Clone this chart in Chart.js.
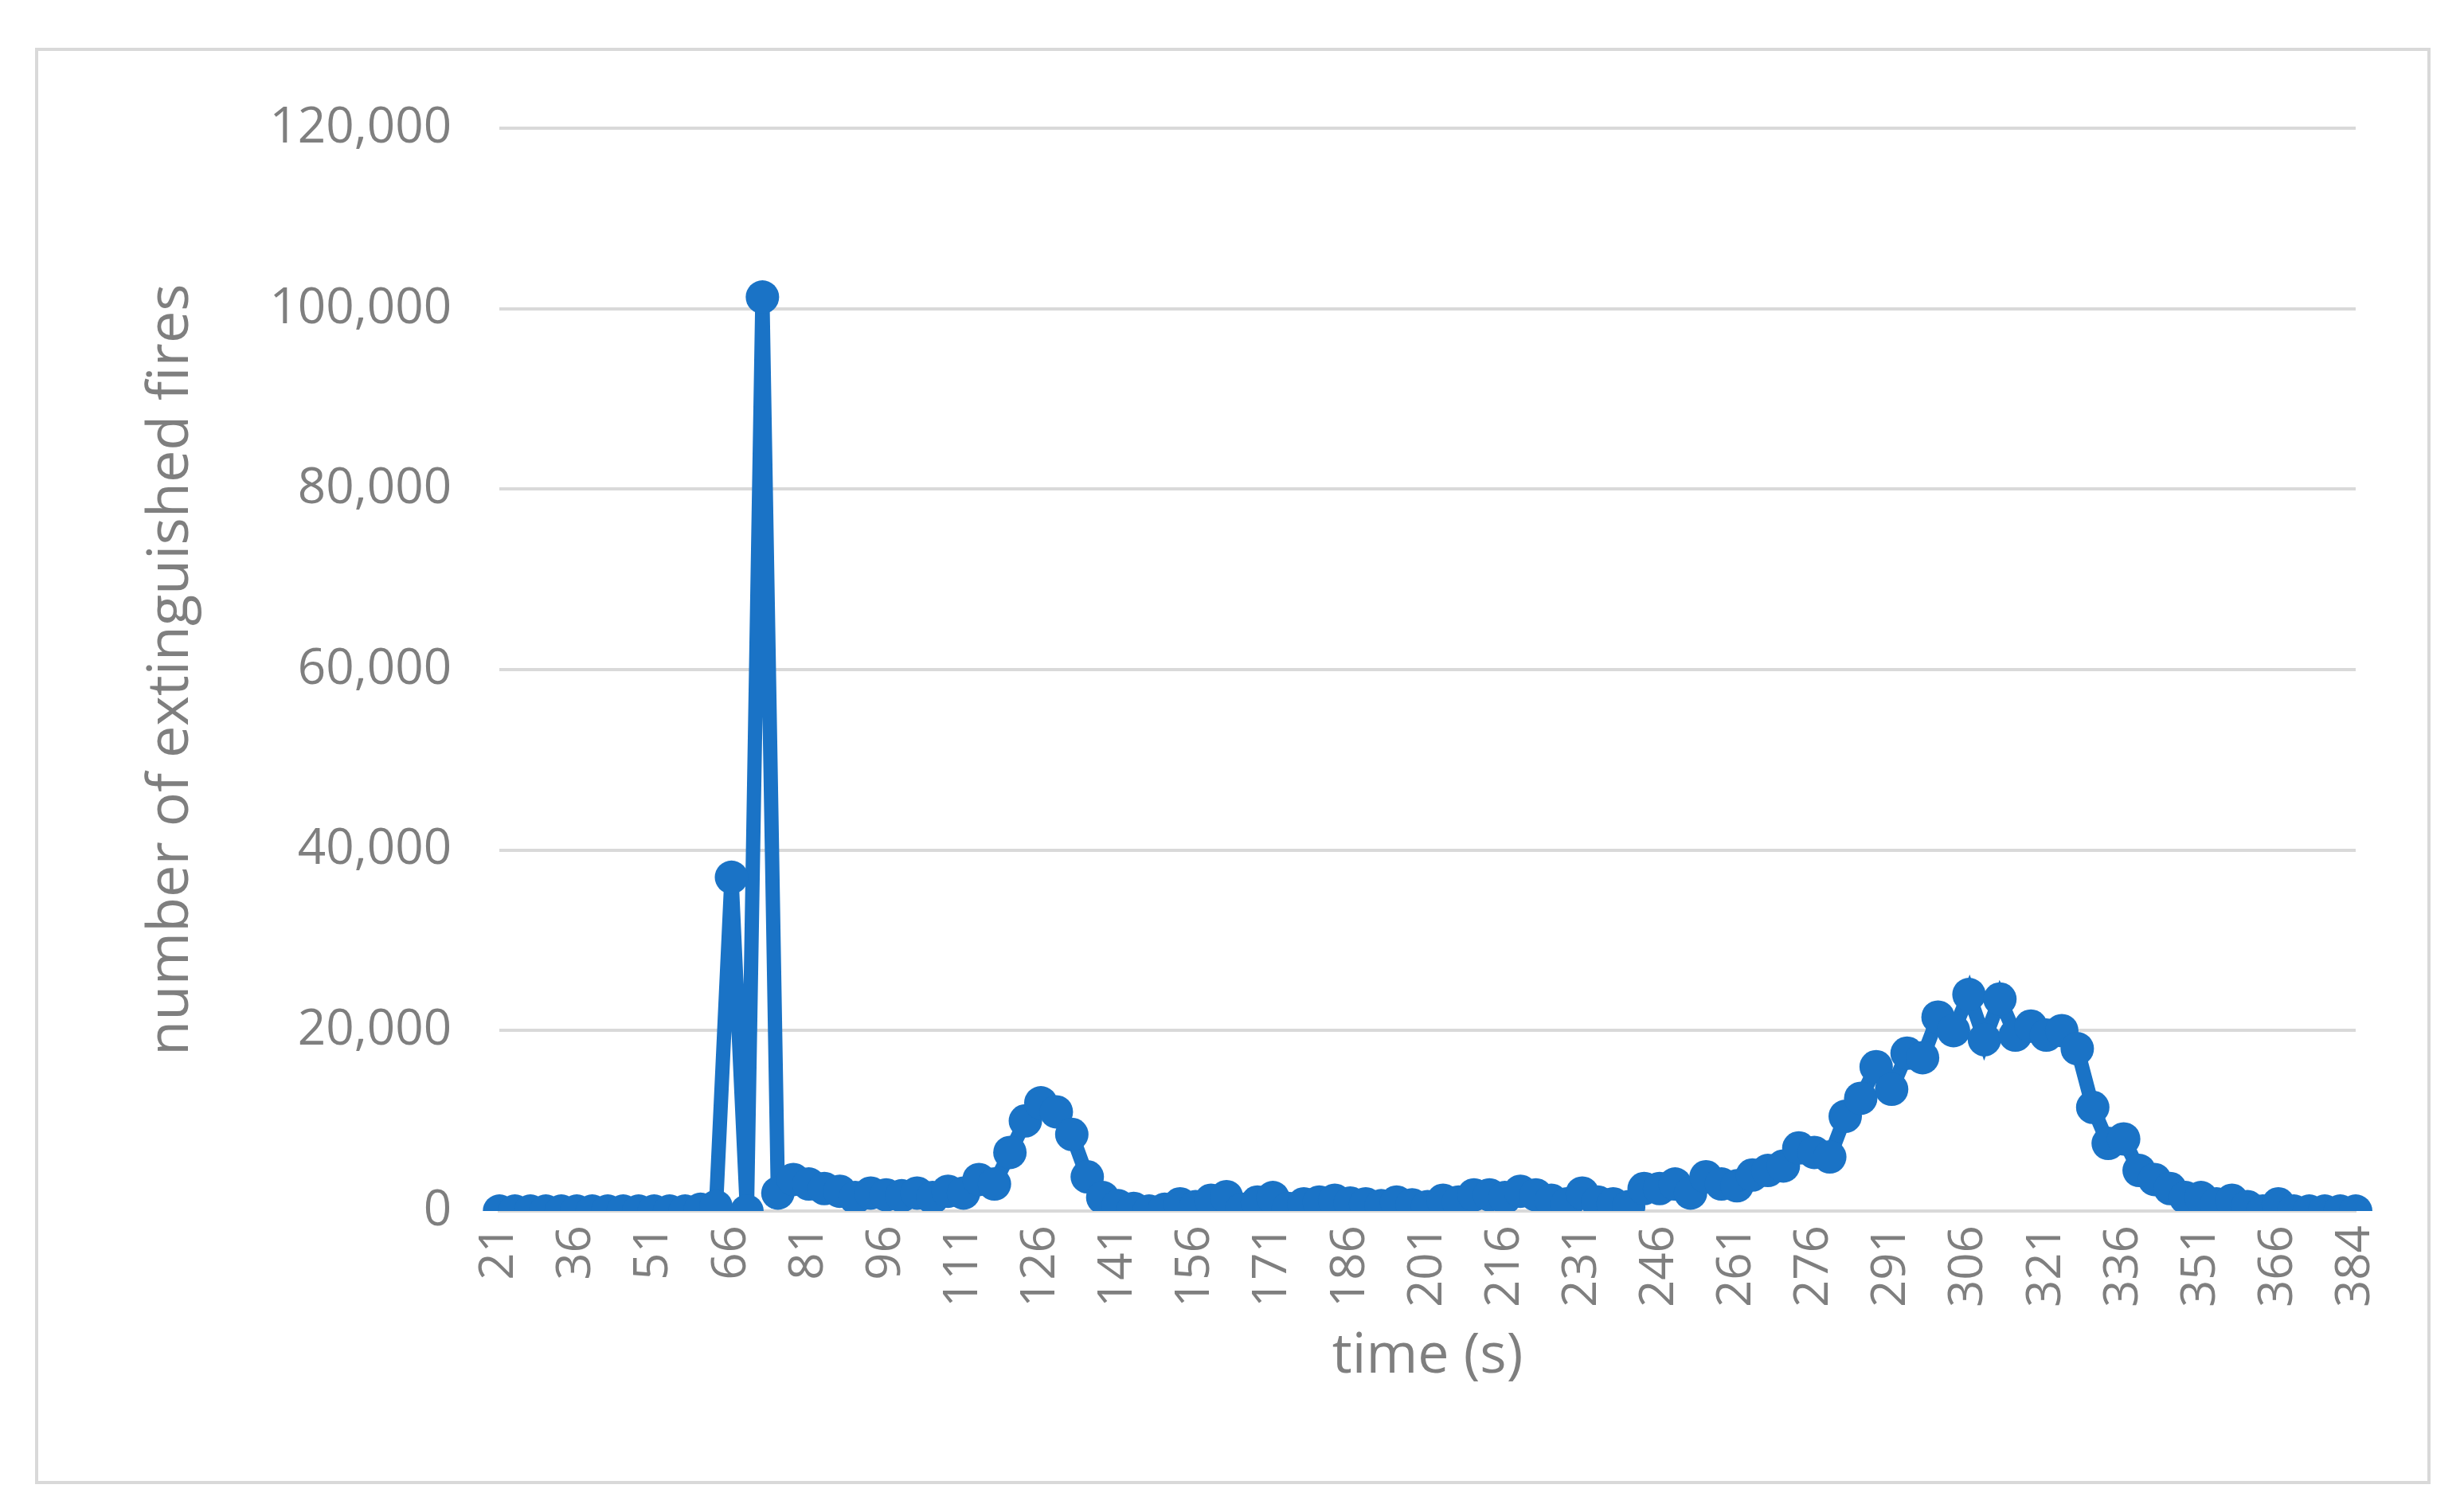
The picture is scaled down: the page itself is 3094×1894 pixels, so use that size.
<!DOCTYPE html>
<html>
<head>
<meta charset="utf-8">
<script src="https://cdn.jsdelivr.net/npm/chart.js@4"></script>
<style>
  html, body { margin: 0; padding: 0; background: #fff; }
  #box { position: absolute; left: 44px; top: 60px; width: 3000px; height: 1796px; border: 4px solid #d9d9d9; }
</style>
</head>
<body>
<div id="box"><canvas id="lineChart" width="3000" height="1796"></canvas></div>
<script>
// time axis, every 3 s (381 is missing in the source)
var times = [];
for (var t = 21; t <= 378; t += 3) times.push(t);
times.push(384);

var extinguished = [
  0, 0, 0, 0, 0, 0, 0, 0, 0, 0, 0, 0, 0, 200, 500,
  37000, 0, 101300, 2000, 3500, 3000, 2500, 2200, 1500, 2000,
  1800, 1700, 2000, 1500, 2200, 2000, 3500, 3000, 6500, 10000,
  12000, 11000, 8500, 3800, 1500, 600, 300, 0, 200, 800,
  500, 1200, 1600, 200, 1000, 1500, 300, 800, 1000, 1200,
  900, 800, 600, 1000, 700, 500, 1200, 1000, 1800, 1800,
  1500, 2200, 1800, 1200, 800, 2000, 1000, 800, 500, 2500,
  2500, 3000, 2000, 3800, 3000, 2800, 4000, 4500, 5000, 7000,
  6500, 6000, 10500, 12500, 16000, 13500, 17500, 17000, 21500, 20000,
  24000, 19000, 23500, 19500, 20500, 19500, 20000, 18000, 11500, 7500,
  8000, 4500, 3500, 2500, 1500, 1500, 800, 1200, 500, 0,
  800, 0, 0, 0, 0, 0
];

var grey = '#7f7f7f';
var blue = '#1a73c6';

var ctxLine = document.getElementById('lineChart').getContext('2d');
var chartLine = new Chart(ctxLine, {
  type: 'line',
  data: {
    labels: times,
    datasets: [
      {
        label: 'number of extinguished fires',
        data: extinguished,
        borderColor: blue,
        backgroundColor: blue,
        borderWidth: 18,
        pointRadius: 21,
        pointBorderWidth: 0,
        tension: 0,
      },
    ],
  },
  options: {
    responsive: false,
    animation: false,
    devicePixelRatio: 1,
    layout: { padding: { top: 50, right: 90, bottom: 110, left: 120 } },
    plugins: { legend: { display: false }, tooltip: { enabled: false } },
    scales: {
      x: {
        grid: { display: false },
        border: { color: '#d9d9d9', width: 4 },
        ticks: {
          color: grey,
          font: { family: 'Open Sans', size: 60 },
          minRotation: 90,
          maxRotation: 90,
          autoSkip: false,
          padding: 10,
          callback: function (v, i) {
            return (i % 5 === 0 || i === times.length - 1) ? times[i] : null;
          },
        },
        title: { display: true, text: 'time (s)', color: grey, font: { family: 'Open Sans', size: 70 }, padding: { top: 10 } },
      },
      y: {
        min: 0,
        max: 120000,
        grid: { color: '#d9d9d9', lineWidth: 4, drawTicks: false },
        border: { display: false },
        ticks: {
          stepSize: 20000,
          color: grey,
          padding: 60,
          font: { family: 'Open Sans', size: 62 },
          callback: function (v) { return v.toLocaleString('en-US'); },
        },
        title: { display: true, text: 'number of extinguished fires', color: grey, font: { family: 'Open Sans', size: 72 }, padding: { bottom: 20 } },
      },
    },
  },
});
</script>
</body>
</html>
